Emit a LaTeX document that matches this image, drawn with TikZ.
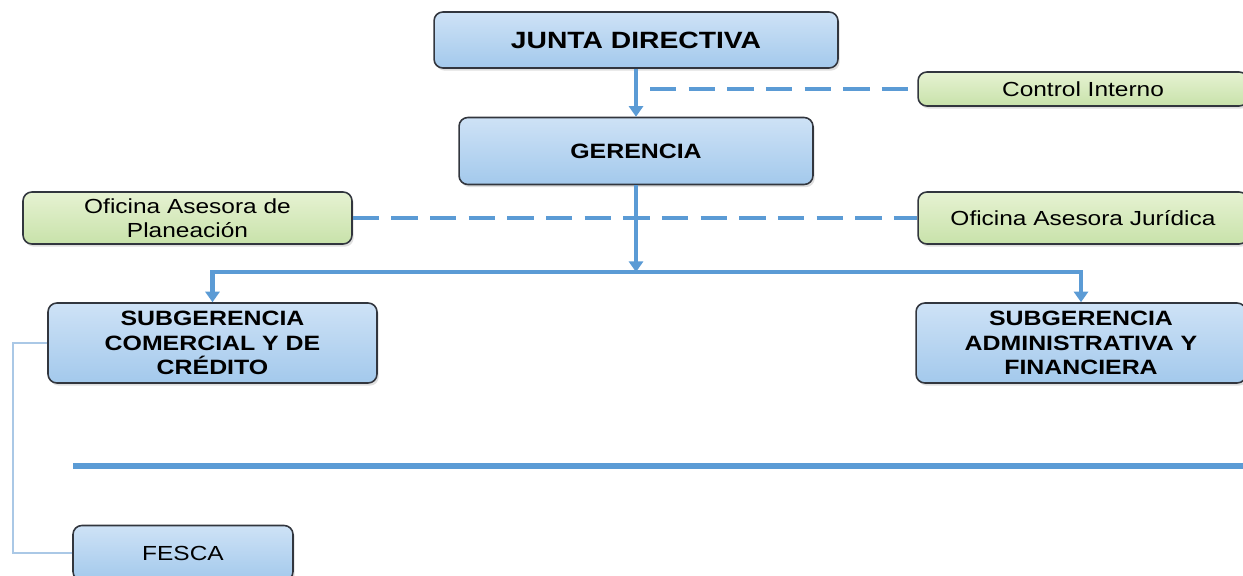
\documentclass[tikz,border=0pt]{standalone}
\usepackage{fontspec}
\setmainfont{Liberation Sans}[FakeStretch=1.2]
\usetikzlibrary{arrows.meta, shadows}

\definecolor{linkblue}{RGB}{91,155,213}
\definecolor{paleblue}{RGB}{170,200,230}
\definecolor{boxtop}{RGB}{206,226,246}
\definecolor{boxbottom}{RGB}{163,201,236}
\definecolor{greentop}{RGB}{230,242,210}
\definecolor{greenbottom}{RGB}{200,226,170}
\definecolor{boxedge}{RGB}{50,54,62}

\begin{document}
\begin{tikzpicture}[
    x=0.02cm, y=-0.02cm,
    mainbox/.style={
        rectangle,
        rounded corners=5pt,
        draw=boxedge,
        line width=0.9pt,
        top color=boxtop,
        bottom color=boxbottom,
        drop shadow={opacity=0.25, shadow xshift=1pt, shadow yshift=-1.5pt},
        align=center,
        inner sep=2pt,
        font=\bfseries\fontsize{11.8}{13.9}\selectfont,
    },
    staffbox/.style={
        mainbox,
        top color=greentop,
        bottom color=greenbottom,
        font=\fontsize{11.6}{13.9}\selectfont,
    },
    link/.style={
        draw=linkblue,
        line width=2.3pt,
        -{Triangle[width=8pt,length=6pt]},
    },
    advice/.style={
        draw=linkblue,
        line width=2.3pt,
        dash pattern=on 15pt off 7pt,
    },
    thinlink/.style={
        draw=paleblue,
        line width=0.7pt,
    }
]
    % Frame
    \useasboundingbox (0,0) rectangle (1243,575);

    % Main line
    \node[mainbox, minimum width=8.08cm, minimum height=1.12cm,
          font=\bfseries\fontsize{13.4}{15}\selectfont] (junta) at (636,40) {JUNTA DIRECTIVA};
    \node[mainbox, minimum width=7.08cm, minimum height=1.34cm] (gerencia) at (636,151) {GERENCIA};

    % Advisory offices
    \node[staffbox, minimum width=6.6cm, minimum height=0.68cm] (control) at (1083,89) {Control Interno};
    \node[staffbox, minimum width=6.58cm, minimum height=1.04cm] (planeacion) at (187.5,218) {Oficina Asesora de\\Planeación};
    \node[staffbox, minimum width=6.6cm, minimum height=1.04cm] (juridica) at (1083,218) {Oficina Asesora Jurídica};

    % Subgerencias
    \node[mainbox, minimum width=6.58cm, minimum height=1.6cm] (comercial) at (212.5,343) {SUBGERENCIA\\COMERCIAL Y DE\\CRÉDITO};
    \node[mainbox, minimum width=6.6cm, minimum height=1.6cm] (administrativa) at (1081,343) {SUBGERENCIA\\ADMINISTRATIVA Y\\FINANCIERA};

    % Fondo
    \node[mainbox, minimum width=4.4cm, minimum height=1.1cm,
          font=\fontsize{11.6}{13.9}\selectfont] (fesca) at (183,553) {FESCA};

    % Helper points
    \coordinate (ctrlstart) at (650,89);
    \coordinate (branch) at (636,272);
    \coordinate (bend) at (13,343);
    \coordinate (sepleft) at (73,466);
    \coordinate (sepright) at (1243,466);

    % Connectors
    \draw[link] (junta.south) -- (gerencia.north);
    \draw[advice] (ctrlstart) -- (control.west);
    \draw[advice] (planeacion.east) -- (juridica.west);
    \draw[link] (gerencia.south) -- (branch);
    \draw[link] (branch) -| (comercial.north);
    \draw[link] (branch) -| (administrativa.north);
    \draw[thinlink] (comercial.west) -- (bend) |- (fesca.west);

    % Separator
    \draw[draw=linkblue, line width=3.4pt] (sepleft) -- (sepright);
\end{tikzpicture}
\end{document}
